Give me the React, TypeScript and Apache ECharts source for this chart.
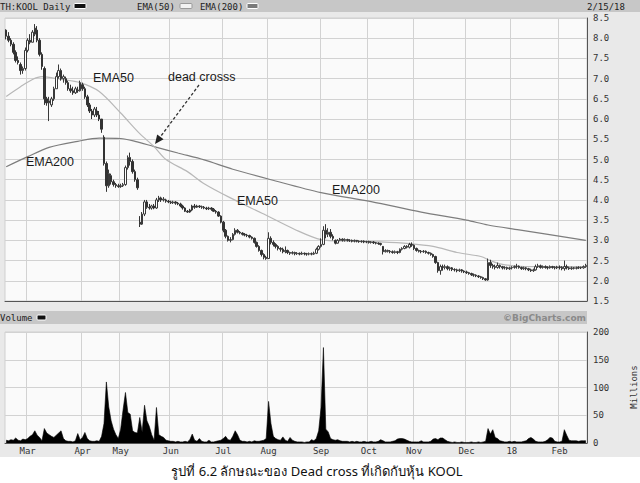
import React, { useEffect, useRef } from 'react';
import * as echarts from 'echarts';

// Daily OHLC, [open, close, low, high], grouped by month (trading days)
const feb17 = [[8.2,8.05,7.97,8.22],[8.05,7.95,7.9,8.15],[7.95,7.85,7.8,8.0],[7.85,7.65,7.6,7.9],[7.65,7.45,7.4,7.7],[7.45,7.4,7.35,7.55],[7.35,7.2,7.1,7.4],[7.2,7.25,7.12,7.3],[7.25,7.7,7.2,7.77]];
const mar17 = [[7.7,7.95,7.65,8.0],[7.95,7.9,7.85,8.1],[7.9,8.15,7.9,8.2],[8.1,8.25,8.05,8.35],[8.2,7.95,7.9,8.3],[7.95,7.6,7.55,8.0],[7.6,7.3,7.22,7.65],[7.25,6.5,6.35,7.3],[6.5,6.4,6.33,6.55],[6.4,6.45,5.95,6.55],[6.35,6.5,6.3,6.55],[6.5,6.75,6.45,6.8],[6.75,7.05,6.75,7.15],[7.05,7.2,7.0,7.35],[7.2,7.0,6.95,7.25],[7.0,7.05,6.9,7.1],[7.0,6.9,6.85,7.05],[6.9,6.75,6.7,6.95],[6.75,6.7,6.65,6.85],[6.7,6.65,6.6,6.8],[6.65,6.75,6.62,6.8],[6.72,6.7,6.65,6.8],[6.7,6.9,6.68,6.95]];
const apr17 = [[6.85,6.75,6.7,6.9],[6.75,6.55,6.5,6.8],[6.55,6.35,6.3,6.6],[6.35,6.2,6.15,6.4],[6.2,6.1,6.0,6.25],[6.1,6.25,6.05,6.3],[6.2,6.1,6.05,6.3],[6.1,6.0,5.95,6.2],[6.0,5.75,5.66,6.0],[5.55,4.9,4.85,5.6],[4.9,4.35,4.2,4.95],[4.35,4.65,4.3,4.75],[4.6,4.45,4.38,4.65],[4.45,4.38,4.33,4.5],[4.38,4.35,4.3,4.42],[4.35,4.33,4.3,4.4]];
const may17 = [[4.33,4.35,4.3,4.4],[4.35,4.38,4.32,4.42],[4.38,4.8,4.35,4.85],[4.8,5.05,4.75,5.1],[5.05,4.95,4.85,5.17],[4.95,4.7,4.65,5.0],[4.7,4.5,4.45,4.75],[4.5,4.3,4.25,4.55],[3.45,3.4,3.33,3.6],[3.4,3.65,3.38,3.7],[3.65,3.95,3.6,4.0],[3.95,3.82,3.78,4.0],[3.82,3.8,3.76,3.9],[3.8,3.85,3.76,3.88],[3.85,3.8,3.77,3.9],[3.8,4.0,3.78,4.05],[4.0,4.05,3.95,4.1],[4.05,4.0,3.95,4.08],[4.0,4.02,3.96,4.07],[4.0,3.97,3.93,4.03],[3.97,3.95,3.92,4.0]];
const jun17 = [[3.95,3.93,3.9,3.98],[3.93,3.95,3.9,3.98],[3.95,3.92,3.88,3.97],[3.92,3.9,3.87,3.95],[3.9,3.85,3.82,3.93],[3.85,3.8,3.76,3.88],[3.8,3.72,3.7,3.82],[3.72,3.7,3.68,3.75],[3.7,3.75,3.68,3.78],[3.75,3.85,3.72,3.88],[3.85,3.82,3.78,3.9],[3.82,3.85,3.8,3.88],[3.85,3.83,3.8,3.87],[3.83,3.82,3.78,3.86],[3.82,3.8,3.77,3.85],[3.8,3.78,3.75,3.83],[3.78,3.8,3.75,3.83],[3.8,3.77,3.73,3.82],[3.77,3.72,3.7,3.8],[3.72,3.7,3.66,3.75],[3.7,3.6,3.58,3.72],[3.6,3.45,3.42,3.62]];
const jul17 = [[3.45,3.25,3.2,3.48],[3.25,3.1,3.05,3.28],[3.1,3.0,2.97,3.12],[3.0,3.02,2.95,3.08],[3.02,3.15,3.0,3.18],[3.15,3.25,3.12,3.3],[3.25,3.2,3.17,3.28],[3.2,3.18,3.15,3.23],[3.18,3.15,3.12,3.2],[3.15,3.13,3.1,3.18],[3.13,3.12,3.08,3.16],[3.12,3.08,3.05,3.14],[3.08,3.05,3.02,3.1],[3.05,2.95,2.92,3.07],[2.95,2.85,2.82,2.97],[2.85,2.75,2.72,2.88],[2.75,2.65,2.6,2.77],[2.65,2.58,2.53,2.68],[2.58,2.55,2.52,2.62]];
const aug17 = [[2.55,3.05,2.55,3.2],[3.05,2.95,2.9,3.1],[2.95,2.9,2.85,3.0],[2.9,2.85,2.8,2.93],[2.85,2.8,2.75,2.88],[2.8,2.78,2.72,2.83],[2.78,2.72,2.68,2.82],[2.72,2.75,2.68,2.85],[2.75,2.7,2.66,2.77],[2.7,2.68,2.64,2.72],[2.68,2.7,2.65,2.73],[2.7,2.67,2.63,2.72],[2.67,2.68,2.64,2.71],[2.68,2.66,2.63,2.7],[2.66,2.68,2.64,2.72],[2.68,2.67,2.63,2.7],[2.67,2.66,2.62,2.69],[2.66,2.67,2.63,2.7],[2.67,2.66,2.63,2.7],[2.66,2.68,2.64,2.72],[2.68,2.78,2.66,2.82],[2.78,2.85,2.75,2.88]];
const sep17 = [[2.85,2.9,2.82,3.05],[2.9,3.25,2.88,3.35],[3.25,3.15,3.05,3.4],[3.15,3.2,3.08,3.3],[3.2,3.1,3.05,3.28],[3.1,3.05,3.0,3.15],[3.0,2.93,2.9,3.02],[2.93,3.0,2.92,3.03],[3.0,3.03,2.98,3.06],[3.03,3.0,2.97,3.05],[3.0,3.02,2.97,3.05],[3.02,3.0,2.97,3.04],[3.0,3.0,2.96,3.03],[3.0,2.98,2.95,3.02],[2.98,3.0,2.95,3.02],[3.0,2.98,2.95,3.01],[2.98,2.97,2.94,3.0],[2.97,2.98,2.94,3.0],[2.98,2.96,2.93,3.0],[2.96,2.97,2.93,2.99]];
const oct17 = [[2.97,2.95,2.92,2.99],[2.95,2.96,2.92,2.98],[2.96,2.94,2.91,2.98],[2.94,2.93,2.9,2.96],[2.93,2.92,2.89,2.95],[2.92,2.9,2.87,2.94],[2.85,2.72,2.65,2.86],[2.72,2.75,2.7,2.78],[2.75,2.73,2.7,2.77],[2.73,2.72,2.68,2.76],[2.72,2.7,2.67,2.75],[2.7,2.72,2.67,2.75],[2.72,2.7,2.66,2.74],[2.7,2.78,2.68,2.8],[2.78,2.8,2.75,2.83],[2.8,2.85,2.78,2.88],[2.85,2.83,2.8,2.88],[2.83,2.9,2.8,2.94],[2.9,2.88,2.84,2.95]];
const nov17 = [[2.88,2.8,2.76,2.9],[2.8,2.75,2.72,2.82],[2.75,2.73,2.7,2.77],[2.73,2.72,2.68,2.76],[2.72,2.73,2.69,2.76],[2.73,2.7,2.67,2.75],[2.7,2.68,2.65,2.72],[2.68,2.65,2.62,2.7],[2.65,2.6,2.57,2.67],[2.6,2.45,2.42,2.62],[2.45,2.25,2.2,2.47],[2.25,2.35,2.15,2.4],[2.35,2.33,2.25,2.4],[2.33,2.35,2.28,2.4],[2.35,2.3,2.26,2.38],[2.3,2.32,2.25,2.35],[2.32,2.28,2.24,2.34],[2.28,2.27,2.23,2.31],[2.27,2.25,2.21,2.3],[2.25,2.27,2.22,2.3],[2.27,2.24,2.2,2.29],[2.24,2.22,2.19,2.26]];
const dec17 = [[2.22,2.2,2.17,2.25],[2.2,2.18,2.15,2.22],[2.18,2.15,2.12,2.2],[2.15,2.14,2.1,2.18],[2.14,2.12,2.09,2.16],[2.12,2.1,2.07,2.14],[2.1,2.08,2.05,2.12],[2.08,2.05,2.02,2.1],[2.05,2.02,2.0,2.07],[2.02,2.45,2.0,2.55],[2.45,2.38,2.32,2.52],[2.38,2.35,2.3,2.42],[2.35,2.33,2.28,2.4],[2.33,2.38,2.3,2.45],[2.38,2.35,2.3,2.4],[2.35,2.32,2.28,2.37],[2.32,2.33,2.28,2.36],[2.33,2.3,2.27,2.35],[2.3,2.32,2.27,2.35]];
const jan18 = [[2.32,2.33,2.28,2.36],[2.33,2.35,2.3,2.38],[2.35,2.36,2.3,2.42],[2.36,2.33,2.3,2.38],[2.33,2.3,2.27,2.35],[2.3,2.32,2.27,2.35],[2.32,2.3,2.26,2.34],[2.3,2.27,2.24,2.32],[2.27,2.25,2.22,2.3],[2.25,2.27,2.22,2.3],[2.27,2.35,2.25,2.4],[2.35,2.37,2.32,2.42],[2.37,2.33,2.3,2.4],[2.33,2.35,2.3,2.38],[2.35,2.33,2.3,2.38],[2.33,2.32,2.28,2.36],[2.32,2.35,2.3,2.38],[2.35,2.33,2.3,2.37],[2.33,2.32,2.28,2.36],[2.32,2.34,2.29,2.37]];
const feb18 = [[2.34,2.33,2.28,2.38],[2.33,2.3,2.26,2.36],[2.3,2.35,2.25,2.5],[2.35,2.32,2.28,2.4],[2.32,2.3,2.27,2.35],[2.3,2.32,2.27,2.35],[2.32,2.31,2.28,2.34],[2.31,2.32,2.28,2.35],[2.32,2.33,2.29,2.36],[2.33,2.32,2.29,2.35],[2.32,2.35,2.3,2.38],[2.35,2.38,2.32,2.42]];

// Daily volume (millions), same months
const volFeb17 = [5,4,6,5,9,5,4,7,6];
const volMar17 = [8,12,15,22,14,10,4,26,18,15,12,10,14,18,22,8,4,3,3,2,4,17,6];
const volApr17 = [10,19,8,4,3,3,4,3,12,35,110,65,40,25,15,8];
const volMay17 = [25,60,91,55,52,22,19,18,46,20,68,40,30,15,5,64,15,12,10,5,4];
const volJun17 = [3,3,2,3,2,2,3,2,6,16,5,3,8,3,2,2,5,2,2,3,4,5];
const volJul17 = [8,12,6,5,12,22,15,5,3,3,2,3,2,4,3,3,4,5,8];
const volAug17 = [75,35,12,8,6,5,11,5,3,10,5,3,2,2,2,1,2,2,6,4,8,22];
const volSep17 = [64,172,25,20,8,6,5,6,4,3,3,3,2,3,2,3,2,2,3,2];
const volOct17 = [2,3,2,2,3,6,4,2,2,2,3,4,7,8,8,7,5,3,2];
const volNov17 = [2,2,2,4,2,2,2,3,7,8,6,9,9,6,3,2,1,2,1,1,2,1];
const volDec17 = [1,1,2,1,1,2,1,2,3,26,16,24,10,8,4,3,2,2,3];
const volJan18 = [2,3,2,2,2,3,4,8,10,7,3,2,2,2,3,6,10,9,3,2];
const volFeb18 = [2,3,24,14,5,4,4,4,3,4,4,4];

// Moving averages: [trading-day index, value]
const ema50Pts = [[0,6.56],[6,6.8],[11,6.98],[15,7.05],[23,6.98],[31,6.9],[39,6.68],[48,6.15],[56,5.64],[62,5.32],[67,5.0],[76,4.7],[83,4.4],[94,4.05],[108,3.65],[121,3.27],[132,3.02],[144,2.98],[157,2.96],[169,2.92],[179,2.85],[189,2.7],[199,2.6],[203,2.5],[207,2.42],[215,2.36],[228,2.35],[243,2.35]];
const ema200Pts = [[0,4.82],[9,5.07],[18,5.3],[30,5.45],[39,5.53],[48,5.52],[54,5.45],[62,5.32],[72,5.16],[83,4.99],[95,4.76],[111,4.5],[132,4.18],[153,3.96],[174,3.7],[193,3.5],[202,3.38],[215,3.26],[243,3.0]];

const monthKeys = ['Feb17', 'Mar17', 'Apr17', 'May17', 'Jun17', 'Jul17', 'Aug17', 'Sep17', 'Oct17', 'Nov17', 'Dec17', 'Jan18', 'Feb18'];
const monthTickLabels = ['', 'Mar', 'Apr', 'May', 'Jun', 'Jul', 'Aug', 'Sep', 'Oct', 'Nov', 'Dec', '18', 'Feb'];
const priceYTicks = { min: 1.5, max: 8.5, step: 0.5 };
const volYTicks = { min: 0, max: 200, step: 50 };

const priceMonths = [feb17, mar17, apr17, may17, jun17, jul17, aug17, sep17, oct17, nov17, dec17, jan18, feb18];
const volMonths = [volFeb17, volMar17, volApr17, volMay17, volJun17, volJul17, volAug17, volSep17, volOct17, volNov17, volDec17, volJan18, volFeb18];

const categories: string[] = [];
const startByIndex = new Map<number, string>();
const startByName = new Map<string, string>();
priceMonths.forEach((m, k) => {
  m.forEach((_, d) => {
    const name = monthKeys[k] + '-' + (d + 1);
    if (d === 0 && k > 0) {
      startByIndex.set(categories.length, monthTickLabels[k]);
      startByName.set(name, monthTickLabels[k]);
    }
    categories.push(name);
  });
});
const ohlc = priceMonths.flat();
const volume = volMonths.flat();
const isMonthStart = (i: any, v?: any) => startByName.has(String(v)) || (typeof i === 'number' && startByIndex.has(i));
const monthLabel = (v: any, i?: any) => startByName.get(String(v)) ?? startByIndex.get(i) ?? '';

const MONO = "'DejaVu Sans Mono', monospace";
const SANS = "'Liberation Sans', Arial, sans-serif";

function buildOption() {
  const annText = (text: string, x: number, y: number) => ({
    type: 'text', x, y, z: 100, silent: true,
    style: { text, fill: '#1a1a1a', font: `12.5px ${SANS}`, verticalAlign: 'middle', align: 'left' },
  });
  const hdrText = (text: string, x: number, y: number) => ({
    type: 'text', x, y, z: 100, silent: true,
    style: { text, fill: '#222', font: `9px ${MONO}`, verticalAlign: 'middle', align: 'left' },
  });
  const swatch = (x: number, y: number, w: number, fill: string, stroke: string) => ({
    type: 'rect', z: 100, silent: true, shape: { x, y, width: w, height: 5, r: 1 },
    style: { fill, stroke, lineWidth: 1 },
  });
  const tip = [155, 144];
  const from = [199, 85];
  const dx = tip[0] - from[0], dy = tip[1] - from[1];
  const len = Math.sqrt(dx * dx + dy * dy);
  const ux = dx / len, uy = dy / len;
  const base = [tip[0] - 9 * ux, tip[1] - 9 * uy];
  const px = -uy, py = ux;

  const xAxisCommon = {
    type: 'category', data: categories, boundaryGap: true,
    axisLine: { show: true, lineStyle: { color: '#555', width: 1 } },
    axisTick: { show: false, interval: isMonthStart },
    splitLine: { show: true, interval: isMonthStart, lineStyle: { color: '#d2d2d2', width: 1 } },
  };

  return {
    animation: false,
    graphic: [
      { type: 'rect', z: 1, silent: true, shape: { x: 0, y: 0, width: 640, height: 12 }, style: { fill: '#c7c7c7' } },
      { type: 'rect', z: 1, silent: true, shape: { x: 0, y: 311, width: 587, height: 13 }, style: { fill: '#c7c7c7' } },
      hdrText('TH:KOOL Daily', 0, 6.5),
      swatch(74, 3.5, 12, '#111', '#fff'),
      hdrText('EMA(50)', 137, 6.5),
      swatch(180, 3.5, 12, '#f2f2f2', '#999'),
      hdrText('EMA(200)', 200, 6.5),
      swatch(247, 3.5, 11, '#7a7a7a', '#fff'),
      hdrText('2/15/18', 587, 6.5),
      hdrText('Volume', 0, 317.5),
      swatch(37, 315, 9, '#111', '#fff'),
      { type: 'text', x: 586, y: 318, z: 100, silent: true,
        style: { text: '\u00A9BigCharts.com', fill: '#8a8a8a', font: `bold 9px 'DejaVu Sans', sans-serif`, align: 'right', verticalAlign: 'middle' } },
      { type: 'text', x: 634, y: 387, rotation: Math.PI / 2, z: 100, silent: true,
        style: { text: 'Millions', fill: '#333', font: `9px ${MONO}`, align: 'center', verticalAlign: 'middle' } },
      annText('EMA50', 93, 78),
      annText('dead crosss', 168, 77),
      annText('EMA200', 26, 162),
      annText('EMA50', 237, 201),
      annText('EMA200', 332, 190),
      { type: 'line', z: 100, silent: true, shape: { x1: from[0], y1: from[1], x2: base[0], y2: base[1] },
        style: { stroke: '#333', lineWidth: 1.3, lineDash: [3, 2] } },
      { type: 'polygon', z: 100, silent: true,
        shape: { points: [tip, [base[0] + 4 * px, base[1] + 4 * py], [base[0] - 4 * px, base[1] - 4 * py]] },
        style: { fill: '#222' } },
      { type: 'text', x: 317, y: 471, z: 100, silent: true,
        style: { text: 'รูปที่ 6.2 ลักษณะของ Dead cross ที่เกิดกับหุ้น KOOL', fill: '#111',
          font: `13px 'Noto Sans', 'Liberation Sans', sans-serif`, align: 'center', verticalAlign: 'middle' } },
    ],
    grid: [
      { left: 5, right: 53, top: 18, height: 283, show: true, backgroundColor: '#fafafa', borderColor: '#cfcfcf', borderWidth: 1 },
      { left: 5, right: 53, top: 332, height: 111, show: true, backgroundColor: '#fafafa', borderColor: '#cfcfcf', borderWidth: 1 },
    ],
    xAxis: [
      { ...xAxisCommon, gridIndex: 0, axisLabel: { show: false } },
      { ...xAxisCommon, gridIndex: 1,
        axisLabel: { show: true, interval: isMonthStart, hideOverlap: false,
          formatter: monthLabel, fontFamily: MONO, fontSize: 9, color: '#333', margin: 3 } },
    ],
    yAxis: [
      { type: 'value', gridIndex: 0, position: 'right', min: priceYTicks.min, max: priceYTicks.max, interval: priceYTicks.step,
        axisLine: { show: true, lineStyle: { color: '#555' } }, axisTick: { show: false },
        axisLabel: { formatter: (v: number) => v.toFixed(1), fontFamily: MONO, fontSize: 9, color: '#333', margin: 6 },
        splitLine: { show: true, lineStyle: { color: '#d2d2d2', width: 1 } } },
      { type: 'value', gridIndex: 1, position: 'right', min: volYTicks.min, max: volYTicks.max, interval: volYTicks.step,
        axisLine: { show: true, lineStyle: { color: '#555' } }, axisTick: { show: false },
        axisLabel: { fontFamily: MONO, fontSize: 9, color: '#333', margin: 6 },
        splitLine: { show: true, lineStyle: { color: '#d2d2d2', width: 1 } } },
    ],
    series: [
      { type: 'line', xAxisIndex: 0, yAxisIndex: 0, data: ema200Pts, symbol: 'none', smooth: 0.3,
        lineStyle: { color: '#7d7d7d', width: 1.2 }, z: 2 },
      { type: 'line', xAxisIndex: 0, yAxisIndex: 0, data: ema50Pts, symbol: 'none', smooth: 0.3,
        lineStyle: { color: '#b8b8b8', width: 1.2 }, z: 2 },
      { type: 'candlestick', xAxisIndex: 0, yAxisIndex: 0, data: ohlc, barWidth: 2, z: 3,
        itemStyle: { color: '#ffffff', color0: '#333333', borderColor: '#3a3a3a', borderColor0: '#333333', borderWidth: 1 } },
      { type: 'line', xAxisIndex: 1, yAxisIndex: 1, data: volume, symbol: 'none',
        lineStyle: { color: '#000', width: 0.6 }, areaStyle: { color: '#000', opacity: 1 } },
    ],
  };
}

export default function App() {
  const ref = useRef<HTMLDivElement>(null);
  useEffect(() => {
    if (!ref.current) return;
    const chart = echarts.init(ref.current, null, { renderer: 'svg' });
    chart.setOption(buildOption() as any);
    return () => chart.dispose();
  }, []);
  return (
    <div style={{ position: 'fixed', left: 0, top: 0, width: 640, height: 483,
      background: 'linear-gradient(to bottom, #e9e9e9 0px, #e9e9e9 457px, #ffffff 457px)' }}>
      <div ref={ref} style={{ width: 640, height: 483 }} />
    </div>
  );
}
